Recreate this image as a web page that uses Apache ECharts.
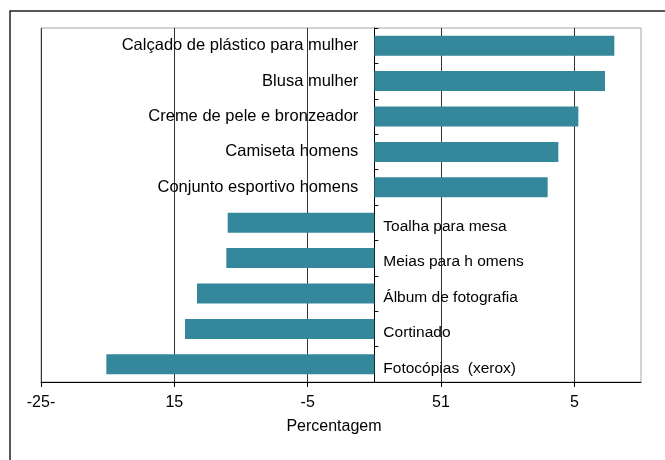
<!DOCTYPE html>
<html>
<head>
<meta charset="utf-8">
<script src="https://cdn.jsdelivr.net/npm/echarts@6/dist/echarts.min.js"></script>
<style>
  html, body { margin: 0; padding: 0; background: #fff; }
  #chart { width: 665px; height: 460px; }
</style>
</head>
<body>
<div id="chart"></div>
<script>
// categories, top to bottom
const categories = [
  'Calçado de plástico para mulher',
  'Blusa mulher',
  'Creme de pele e bronzeador',
  'Camiseta homens',
  'Conjunto esportivo homens',
  'Toalha para mesa',
  'Meias para h omens',
  'Álbum de fotografia',
  'Cortinado',
  'Fotocópias  (xerox)'
]
const values = [18.0, 17.3, 15.3, 13.8, 13.0, -11.0, -11.1, -13.3, -14.2, -20.1]

// x axis ticks and the labels as printed
const tickValues = [-25, -15, -5, 5, 15]
const tickLabels = ['-25-', '15', '-5', '51', '5']

const barColor = '#35879b'
const font = 'Liberation Sans, Arial, sans-serif'

const chart = echarts.init(document.getElementById('chart'))

chart.setOption({
  animation: false,
  graphic: [{
    type: 'rect',
    shape: { x: 10, y: 11, width: 700, height: 500 },
    style: { fill: 'none', stroke: '#222', lineWidth: 1.5 },
    silent: true
  }],
  grid: {
    left: 41,
    right: 24,
    top: 28,
    bottom: 78,
    show: true,
    borderColor: '#a6a6a6',
    borderWidth: 1
  },
  xAxis: {
    type: 'value',
    min: -25,
    max: 20,
    name: 'Percentagem',
    nameLocation: 'middle',
    nameGap: 37,
    nameTextStyle: { fontFamily: font, fontSize: 16, color: '#000', padding: [0, 14, 0, 0] },
    axisLine: { show: true, onZero: false, lineStyle: { color: '#000', width: 1 } },
    axisTick: { show: true, length: 5, customValues: tickValues, lineStyle: { color: '#000' } },
    axisLabel: {
      customValues: tickValues,
      margin: 13,
      fontFamily: font,
      fontSize: 16,
      color: '#000',
      formatter: v => tickLabels[tickValues.indexOf(v)]
    },
    splitLine: { show: true, lineStyle: { color: '#333', width: 1 } }
  },
  yAxis: {
    type: 'category',
    data: categories,
    inverse: true,
    axisLine: { show: true, onZero: true, lineStyle: { color: '#000', width: 1 } },
    axisTick: { show: true, inside: true, length: 4, lineStyle: { color: '#000' } },
    axisLabel: { show: false },
    splitLine: { show: false }
  },
  series: [{
    type: 'bar',
    barWidth: 20,
    itemStyle: { color: barColor },
    data: values.map(v => ({
      value: v,
      label: v >= 0
        ? { position: 'left', distance: 16, fontSize: 16.5 }
        : { position: 'right', distance: 9, offset: [0, 4], fontSize: 15.5 }
    })),
    label: {
      show: true,
      fontFamily: font,
      color: '#000',
      formatter: p => p.name
    }
  }]
})
</script>
</body>
</html>
